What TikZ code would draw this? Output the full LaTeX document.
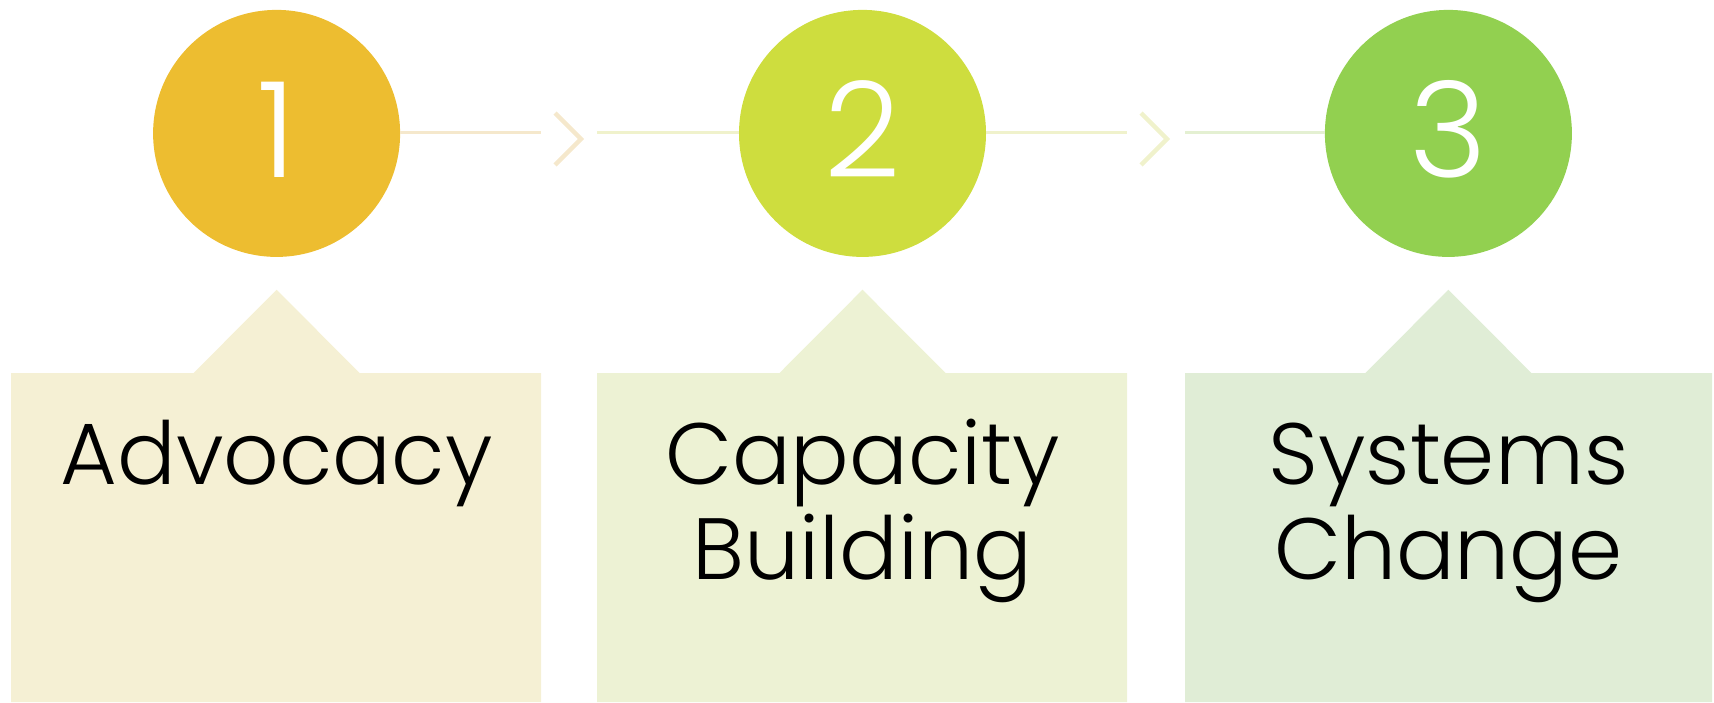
\documentclass[tikz,border=0pt]{standalone}
\usepackage{fontspec}
\setmainfont{Poppins}[UprightFont=* Light]
\definecolor{cA}{HTML}{EDBD30}
\definecolor{cB}{HTML}{CEDD3E}
\definecolor{cC}{HTML}{92D050}
\definecolor{bA}{HTML}{F5F0D4}
\definecolor{bB}{HTML}{EDF2D4}
\definecolor{bC}{HTML}{E0EDD6}
\definecolor{lA}{HTML}{F5E8CC}
\definecolor{lB}{HTML}{F0F2CC}
\definecolor{lC}{HTML}{E4F0D2}
\begin{document}
\begin{tikzpicture}[x=1pt,y=-1pt,
  numcircle/.style={circle, minimum size=247pt, inner sep=0pt, text=white,
    font=\fontsize{133}{133}\selectfont},
  label/.style={font=\fontsize{87}{95}\selectfont, align=center, anchor=base, text=black},
  conn/.style={line width=3pt},
  chev/.style={line width=4.5pt}]
\useasboundingbox (0,0) rectangle (1714,702);
% boxes
\fill[bA] (11,373) -- (193.6,373) -- (276.6,289.7) -- (359.6,373) -- (541,373) -- (541,702) -- (11,702) -- cycle;
\fill[bB] (597,373) -- (779.5,373) -- (862.5,289.7) -- (945.5,373) -- (1127,373) -- (1127,702) -- (597,702) -- cycle;
\fill[bC] (1185,373) -- (1365.4,373) -- (1448.4,289.7) -- (1531.4,373) -- (1712,373) -- (1712,702) -- (1185,702) -- cycle;
% circles
\node[numcircle, fill=cA] (c1) at (276.6,133.4) {};
\node[numcircle, fill=cB] (c2) at (862.5,133.4) {};
\node[numcircle, fill=cC] (c3) at (1448.4,133.4) {};
\node[numcircle, yshift=4pt] (n1) at (c1.center) {1};
\node[numcircle, yshift=4pt] (n2) at (c2.center) {2};
\node[numcircle, yshift=4pt] (n3) at (c3.center) {3};
% connectors
\coordinate (a1) at (541,132.5);
\coordinate (a2) at (597,132.5);
\coordinate (b1) at (1127,132.5);
\coordinate (b2) at (1185,132.5);
\coordinate (k1s) at (555,113);
\coordinate (k1t) at (581,139);
\coordinate (k1e) at (555,165);
\coordinate (k2s) at (1141,113);
\coordinate (k2t) at (1167,139);
\coordinate (k2e) at (1141,165);
\draw[conn, lA] (c1.east |- a1) -- (a1);
\draw[chev, lA] (k1s) -- (k1t) -- (k1e);
\draw[conn, lB] (a2) -- (c2.west |- a2);
\draw[conn, lB] (c2.east |- b1) -- (b1);
\draw[chev, lB] (k2s) -- (k2t) -- (k2e);
\draw[conn, lC] (b2) -- (c3.west |- b2);
% labels
\node[label] (t1) at (276.6,484) {Advocacy};
\node[label] (t2) at (862.5,579) {Capacity\\Building};
\node[label] (t3) at (1448.4,579) {Systems\\Change};
\end{tikzpicture}
\end{document}
